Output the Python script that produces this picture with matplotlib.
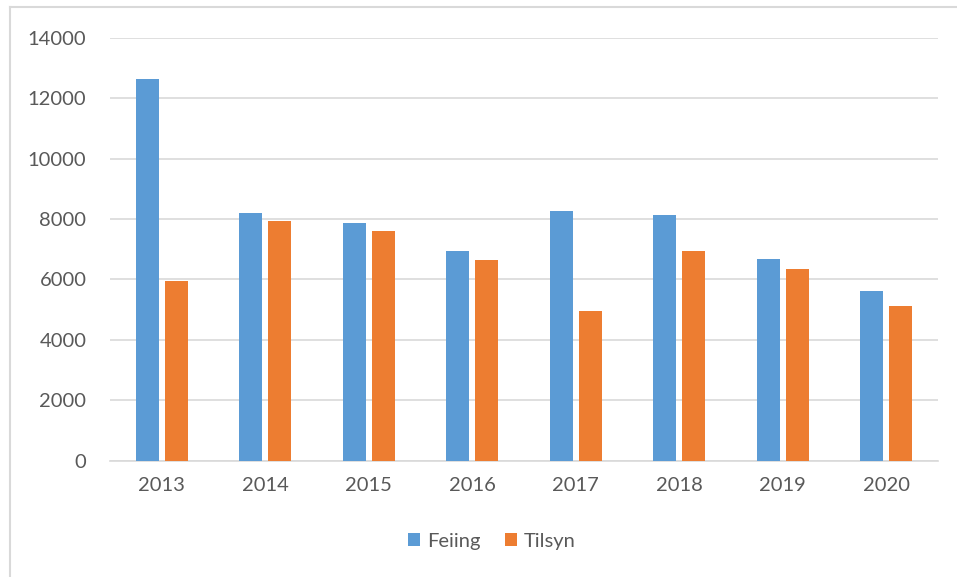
"""Feiing og tilsyn per aar, gruppert stolpediagram."""

import matplotlib
matplotlib.use("Agg")
import matplotlib.pyplot as plt
from matplotlib.lines import Line2D
import numpy as np

years = ["2013", "2014", "2015", "2016", "2017", "2018", "2019", "2020"]
feiing = [12620, 8210, 7880, 6950, 8270, 8140, 6690, 5630]
tilsyn = [5960, 7940, 7610, 6630, 4960, 6950, 6350, 5110]
y_ticks = [0, 2000, 4000, 6000, 8000, 10000, 12000, 14000]

BLUE = "#5b9bd5"
ORANGE = "#ed7d31"
GRID = "#d9d9d9"
TEXT = "#595959"

plt.rcParams["font.family"] = ["Lato", "DejaVu Sans"]

fig = plt.figure(figsize=(9.57, 5.77), dpi=100)
ax = fig.add_axes([0.115, 0.2016, 0.865, 0.7331])

x = np.arange(len(years))
width = 0.22
offset = 0.14
ax.bar(x - offset, feiing, width, color=BLUE, label="Feiing", zorder=3)
ax.bar(x + offset, tilsyn, width, color=ORANGE, label="Tilsyn", zorder=3)

ax.set_xlim(-0.5, len(years) - 0.5)
ax.set_ylim(0, 14000)
ax.set_yticks(y_ticks)
ax.set_yticklabels([str(v) for v in y_ticks])
ax.set_xticks(x)
ax.set_xticklabels(years)
ax.yaxis.grid(True, color=GRID, linewidth=1.2, zorder=0)
ax.tick_params(axis="both", length=0, labelsize=14.5, colors=TEXT)
ax.tick_params(axis="y", pad=17)
ax.tick_params(axis="x", pad=12)
for side in ("top", "right", "left"):
    ax.spines[side].set_visible(False)
ax.spines["bottom"].set_color(GRID)
ax.spines["bottom"].set_linewidth(1.2)

fig.legend(
    loc="center",
    bbox_to_anchor=(492 / 957, 1 - 541 / 577),
    ncol=2,
    frameon=False,
    fontsize=14.5,
    labelcolor=TEXT,
    handlelength=0.6,
    handleheight=0.6,
    handletextpad=0.35,
    columnspacing=1.2,
)

# ramme rundt diagramomraadet (venstre og topp synlig)
fig.add_artist(Line2D([10 / 957, 10 / 957], [0, 1 - 7 / 577], transform=fig.transFigure, color=GRID, linewidth=1.5))
fig.add_artist(Line2D([10 / 957, 1], [1 - 7 / 577, 1 - 7 / 577], transform=fig.transFigure, color=GRID, linewidth=1.5))

fig.savefig("out.png", dpi=100)
plt.close(fig)
